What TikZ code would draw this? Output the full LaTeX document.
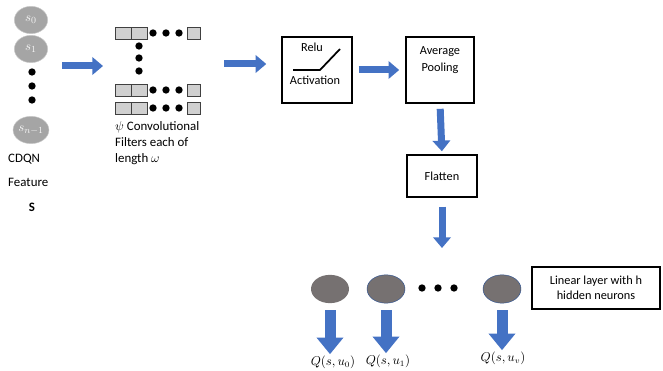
\documentclass[tikz,border=0pt]{standalone}
\usepackage{fontspec}
\setmainfont{Carlito}
\usetikzlibrary{arrows.meta, shapes}

\definecolor{arrblue}{HTML}{4472C4}
\definecolor{featgray}{HTML}{A5A5A5}
\definecolor{neurgray}{HTML}{767171}
\definecolor{neurline}{HTML}{2F528F}
\definecolor{cellgray}{HTML}{D0D0D0}

\tikzset{
	feat/.style={ellipse, fill=featgray, draw=featgray!60!white, minimum width=1.0cm, minimum height=0.82cm, inner sep=0pt, text=white!92!gray, font=\fontsize{11}{13}\selectfont},
	dot/.style={circle, fill=black, inner sep=0pt, minimum size=0.22cm},
	cell/.style={rectangle, draw=black!75, fill=cellgray, minimum width=0.47cm, minimum height=0.36cm, inner sep=0pt},
	layer/.style={rectangle, draw, line width=1.2pt, align=center},
	neuron/.style={ellipse, fill=neurgray, minimum width=1.14cm, minimum height=0.85cm, inner sep=0pt},
	blockarrow/.style={arrblue, line width=0.21cm, -{Triangle[width=0.52cm,length=0.32cm]}},
	bigarrow/.style={arrblue, line width=0.33cm, -{Triangle[width=0.78cm,length=0.5cm]}},
	txt/.style={align=left, font=\fontsize{11}{13}\selectfont},
	qlab/.style={font=\fontsize{10.5}{12}\selectfont, inner sep=1pt}
}

\begin{document}
\begin{tikzpicture}[x=0.03cm, y=-0.03cm, font=\fontsize{10.5}{12.5}\selectfont]
		\useasboundingbox (0,0) rectangle (663,371);
		% input feature vector
		\node[feat] (s0) at (31,20) {$s_0$};
		\node[feat] (s1) at (31,49) {$s_1$};
		\foreach \y [count=\i] in {72,86,100}
			\node[dot] (sd\i) at (32,\y) {};
		\node[feat] (sn) at (31,130) {$s_{n-1}$};
		\node[txt, anchor=north west, inner sep=0pt] (cdqn) at (8,154) {CDQN\\[7pt]Feature};
		\node[font=\bfseries\fontsize{11}{13}\selectfont] (svec) at (32,207) {S};
		% filters
		\foreach \y [count=\r] in {33,90,108} {
			\node[cell] (f\r a) at (123,\y) {};
			\node[cell] (f\r b) at (139,\y) {};
			\foreach \x [count=\k] in {153,166,179}
				\node[dot] (fd\r\k) at (\x,\y) {};
			\node[cell, minimum width=0.4cm] (f\r c) at (194,\y) {};
		}
		\foreach \y [count=\k] in {46,58,71}
			\node[dot] (vd\k) at (139,\y) {};
		\node[txt, anchor=north west, inner sep=0pt] (filtxt) at (115,121) {$\psi$ Convolutional\\[1pt]Filters each of\\[1pt]length $\omega$};
		% relu
		\node[layer, minimum width=2.1cm, minimum height=1.98cm] (relu) at (317,70) {};
		\node (relutxt) at (312,47) {Relu};
		\node (acttxt) at (315,80) {Activation};
		\draw[line width=1.5pt] (293,70) -- (320,70) -- (340,49);
		% pooling and flatten
		\node[layer, line width=1.4pt, minimum width=2.04cm, minimum height=1.98cm] (pool) at (440,70) {};
		\node[align=center] (pooltxt) at (440,60) {Average\\[2pt]Pooling};
		\node[layer, minimum width=2.1cm, minimum height=1.26cm] (flat) at (442,176) {Flatten};
		% linear layer
		\node[neuron] (n0) at (330,289) {};
		\node[neuron, draw=neurline] (n1) at (386,289) {};
		\foreach \x [count=\k] in {422,438,454}
			\node[dot] (nd\k) at (\x,288) {};
		\node[neuron, draw=neurline] (nv) at (502,289) {};
		\node[layer, minimum width=3.84cm, minimum height=1.26cm] (lin) at (596,288) {Linear layer with h\\hidden neurons};
		\node[qlab] (q0) at (333,362) {$Q(s,u_0)$};
		\node[qlab] (q1) at (388,361) {$Q(s,u_1)$};
		\node[qlab] (qv) at (503,358) {$Q(s,u_v)$};
		% arrows
		\coordinate (inR) at (62,66);
		\coordinate (filtL) at (103,66);
		\coordinate (filtR) at (224,64);
		\coordinate (flatout) at (442,248);
		\draw[blockarrow] (inR) -- (filtL);
		\draw[blockarrow, shorten >=0.45cm] (filtR) -- (filtR -| relu.west);
		\draw[blockarrow, shorten <=0.18cm, shorten >=0.18cm] (relu.east) -- (pool.west);
		\draw[blockarrow, shorten <=0.15cm, shorten >=0.09cm] (pool.south) -- (flat.north);
		\draw[blockarrow, shorten <=0.27cm] (flat.south) -- (flatout);
		\draw[bigarrow, shorten <=0.2cm] (n0.south) -- (n0.south |- q0.north);
		\draw[bigarrow, shorten <=0.2cm] (n1.south) -- (n1.south |- q1.north);
		\draw[bigarrow, shorten <=0.2cm] (nv.south) -- (nv.south |- qv.north);
\end{tikzpicture}
\end{document}
